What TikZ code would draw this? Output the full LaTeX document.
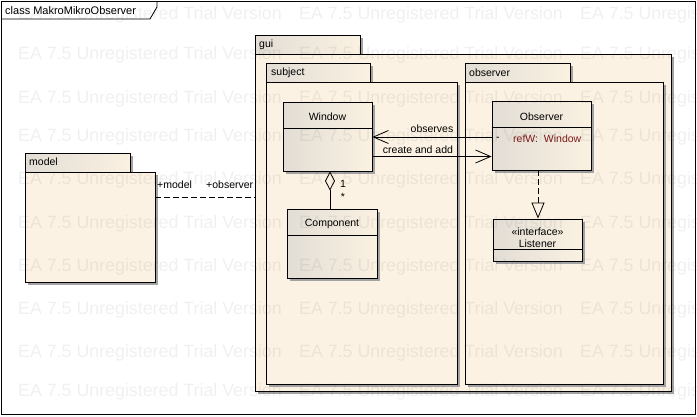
\documentclass[tikz,border=0pt]{standalone}
\usepackage{fontspec}
\setmainfont{Liberation Sans}
\usetikzlibrary{arrows.meta,shadows,calc}
\definecolor{pkgfill}{HTML}{FBF2E3}
\definecolor{clsA}{HTML}{E2DDD5}
\definecolor{clsB}{HTML}{FAF1E1}
\definecolor{shadowc}{HTML}{A3A3A3}
\definecolor{attrc}{HTML}{7F1A1A}
\tikzset{
  lbl/.style={font=\fontsize{10.5}{12}\selectfont, inner sep=0pt},
  shad/.style={drop shadow={shadow xshift=3pt, shadow yshift=-3pt, fill=shadowc, opacity=1}},
  pkgbox/.style={draw=black, fill=pkgfill, line width=0.9pt, shad, rectangle, inner sep=0pt},
  tabbox/.style={draw=black, line width=0.9pt, left color=clsA, right color=clsB, shad},
  classbox/.style={draw=black, line width=0.9pt, left color=clsA, right color=clsB, shad, rectangle, inner sep=0pt},
  conn/.style={line width=0.8pt, draw=black},
  dashconn/.style={conn, dash pattern=on 6pt off 3pt},
  openarrow/.style={-{Straight Barb[length=15pt,width=13pt,line width=0.8pt]}},
  wm/.style={font=\fontsize{17.8}{20}\selectfont, text=black, opacity=0.06, anchor=west, inner sep=0pt},
}
\begin{document}
\begin{tikzpicture}[x=1pt,y=-1pt]
\useasboundingbox (0,0) rectangle (697,416);
\fill[white] (0,0) rectangle (697,416);
% outer frame
\draw[line width=0.9pt] (1,1) rectangle (695,414);
\draw[line width=0.8pt] (1,19) -- (150,19) -- (157,7) -- (157,1);
\node[lbl, anchor=west, font=\fontsize{11}{12}\selectfont] (title) at (5,11) {class MakroMikroObserver};

% model package
\draw[tabbox] (25,153) rectangle (130,172);
\node[pkgbox, minimum width=130pt, minimum height=110pt] (mdl) at (90,227) {};
\node[lbl, anchor=west] (mdltxt) at (29,162) {model};

% gui package
\draw[tabbox] (255,35) rectangle (360,54);
\node[pkgbox, minimum width=416pt, minimum height=337pt] (gui) at (463,222.5) {};
\node[lbl, anchor=west] (guitxt) at (259,45) {gui};

% subject package
\draw[tabbox] (266,63) rectangle (370,82);
\node[pkgbox, minimum width=191pt, minimum height=302pt] (subj) at (361.5,233) {};
\node[lbl, anchor=west] (subjtxt) at (271,72.5) {subject};

% observer package
\draw[tabbox] (465,63) rectangle (570,82);
\node[pkgbox, minimum width=198pt, minimum height=302pt] (obspkg) at (564,233) {};
\node[lbl, anchor=west] (obspkgtxt) at (469,72.5) {observer};

% Window class
\node[classbox, minimum width=89pt, minimum height=69pt] (window) at (327.5,136.5) {};
\draw[line width=0.8pt] ($(window.north west)+(0,27)$) -- ($(window.north east)+(0,27)$);
\node[lbl] (windowtxt) at (327.5,117) {Window};

% Observer class
\node[classbox, minimum width=99pt, minimum height=69pt] (obs) at (541.5,135.5) {};
\draw[line width=0.8pt] ($(obs.north west)+(0,27)$) -- ($(obs.north east)+(0,27)$);
\node[lbl] (obstxt) at (541.5,117) {Observer};
\node[lbl, anchor=west] (obsminus) at (496,139) {-};
\node[lbl, anchor=west, text=attrc] (obsattr) at (513,139) {refW:\ \ Window};

% Component class
\node[classbox, minimum width=90pt, minimum height=69pt] (comp) at (332,243.5) {};
\draw[line width=0.8pt] ($(comp.north west)+(0,27)$) -- ($(comp.north east)+(0,27)$);
\node[lbl] (comptxt) at (332,224) {Component};

% Listener interface
\node[classbox, minimum width=89pt, minimum height=42pt] (lst) at (537.5,240) {};
\draw[line width=0.8pt] ($(lst.north west)+(0,31)$) -- ($(lst.north east)+(0,31)$);
\node[lbl] (lststereo) at (537.5,232) {«interface»};
\node[lbl] (lsttxt) at (537.5,244) {Listener};

% connectors
\draw[conn, openarrow] ([yshift=-1.5pt]obs.west) -- ([yshift=-0.5pt]window.east);
\node[lbl] (observes) at (432,129) {observes};
\draw[conn, openarrow] ([yshift=-20pt]window.east) -- ([yshift=-21pt]obs.west);
\node[lbl] (createadd) at (418,149.5) {create and add};

\draw[conn, {Diamond[open,length=19pt,width=10pt,line width=0.8pt]}-] ([xshift=2.5pt]window.south) -- ([xshift=-2pt]comp.north);
\node[lbl] (mult1) at (343,184) {1};
\node[lbl] (mult2) at (343,197) {*};

\draw[dashconn, -{Triangle[open,length=16pt,width=13pt,line width=0.8pt]}] ([xshift=-3.5pt]obs.south) -- ([xshift=0.5pt]lst.north);

\draw[dashconn] ([yshift=30pt]mdl.east) -- ([yshift=25.5pt]gui.west);
\node[lbl, anchor=west] (plusmodel) at (157,185) {+model};
\node[lbl, anchor=west] (plusobs) at (206,185) {+observer};

% watermark
\begin{scope}
\clip (0,0) rectangle (697,416);
\foreach \yy in {15,55,99,137,180,224,267,310,353,392}{
  \foreach \xx in {18,299,580}{
    \node[wm] at (\xx,\yy) {EA 7.5 Unregistered Trial Version};
  }
}
\end{scope}
\end{tikzpicture}
\end{document}
